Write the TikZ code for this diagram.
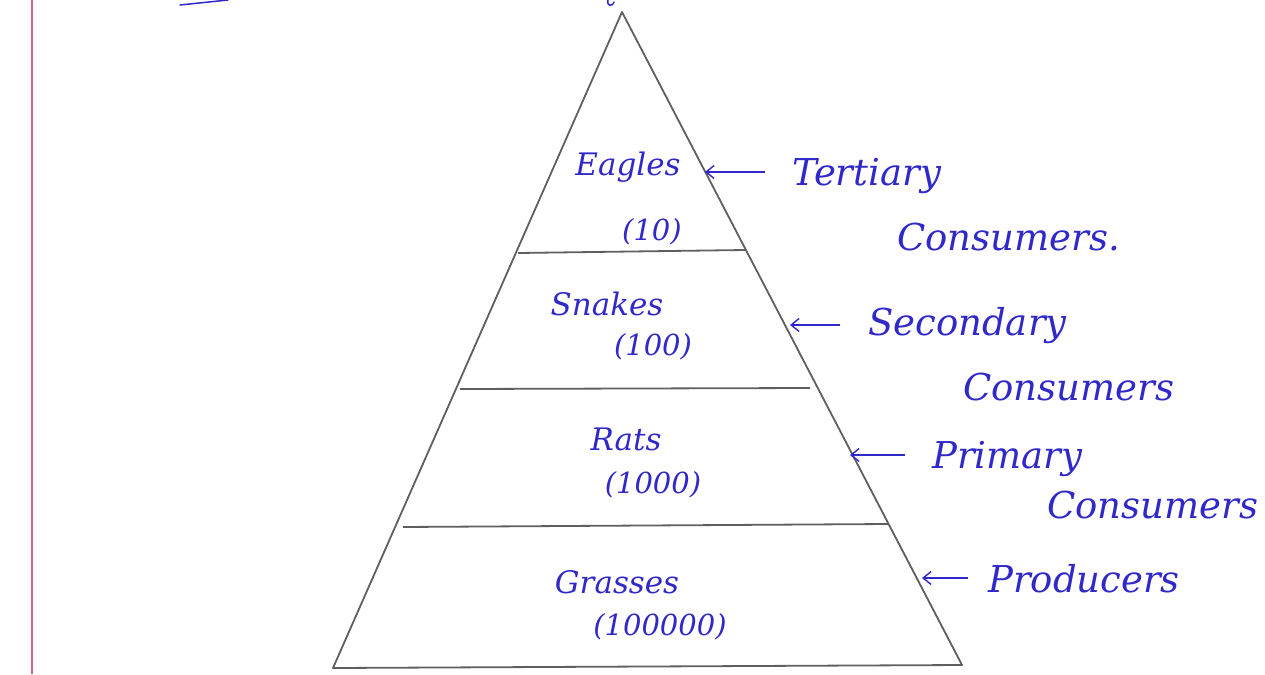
\documentclass[tikz,border=0pt]{standalone}
\usepackage{fontspec}
\setmainfont{DejaVu Serif}
\usetikzlibrary{arrows.meta}
\definecolor{ink}{RGB}{48,40,200}
\definecolor{pencil}{RGB}{95,95,95}
\definecolor{margin}{RGB}{222,95,135}
\tikzset{
  hand/.style={text=ink, font=\itshape\fontsize{31}{34}\selectfont, inner sep=0pt, anchor=base},
  num/.style={text=ink, font=\itshape\fontsize{29}{32}\selectfont, inner sep=0pt, anchor=base},
  side/.style={text=ink, font=\itshape\fontsize{37}{40}\selectfont, inner sep=0pt, anchor=base west},
  pointer/.style={draw=ink, line width=1.4pt, -{Straight Barb[length=8pt,width=13pt]}},
  level/.style={draw=pencil, line width=1.8pt},
}
\begin{document}
\begin{tikzpicture}[x=1pt,y=-1pt]
\useasboundingbox (0,0) rectangle (1265,674);
% margin line
\draw[margin, line width=2.5pt] (32,0) -- (32,674);
% cut-off strokes at the top
\draw[ink, line width=1.5pt, line cap=round] (180,5) -- (228,0);
\draw[ink, line width=1.5pt, line cap=round] (608,0) .. controls (606,5) and (612,8) .. (614,2);
% pyramid
\coordinate (apex) at (622,12);
\coordinate (bl) at (333,668);
\coordinate (br) at (962,665);
\draw[level, line join=round] (bl) -- (apex) -- (br) -- cycle;
\draw[level] (518,253) -- (745,250);
\draw[level] (460,389) -- (810,388);
\draw[level] (403,527) -- (888,524);
% level labels
\node[hand] (eagles) at (628,175) {Eagles};
\node[num] (n10) at (652,240) {(10)};
\node[hand] (snakes) at (607,315) {Snakes};
\node[num] (n100) at (653,355) {(100)};
\node[hand] (rats) at (626,450) {Rats};
\node[num] (n1000) at (653,493) {(1000)};
\node[hand] (grasses) at (617,593) {Grasses};
\node[num] (n100000) at (660,635) {(100000)};
% side labels
\node[side] (ter) at (792,185) {Tertiary};
\node[side] (terc) at (897,250) {Consumers.};
\node[side] (sec) at (868,335) {Secondary};
\node[side] (secc) at (963,400) {Consumers};
\node[side] (pri) at (932,468) {Primary};
\node[side] (pric) at (1047,518) {Consumers};
\node[side] (pro) at (988,592) {Producers};
% pointers
\coordinate (pt) at (705,172);
\coordinate (ps) at (790,325);
\coordinate (pp) at (850,455);
\coordinate (pr) at (922,578);
\draw[pointer] ([xshift=-27pt]ter.west |- pt) -- (pt);
\draw[pointer] ([xshift=-28pt]sec.west |- ps) -- (ps);
\draw[pointer] ([xshift=-27pt]pri.west |- pp) -- (pp);
\draw[pointer] ([xshift=-20pt]pro.west |- pr) -- (pr);
\end{tikzpicture}
\end{document}
